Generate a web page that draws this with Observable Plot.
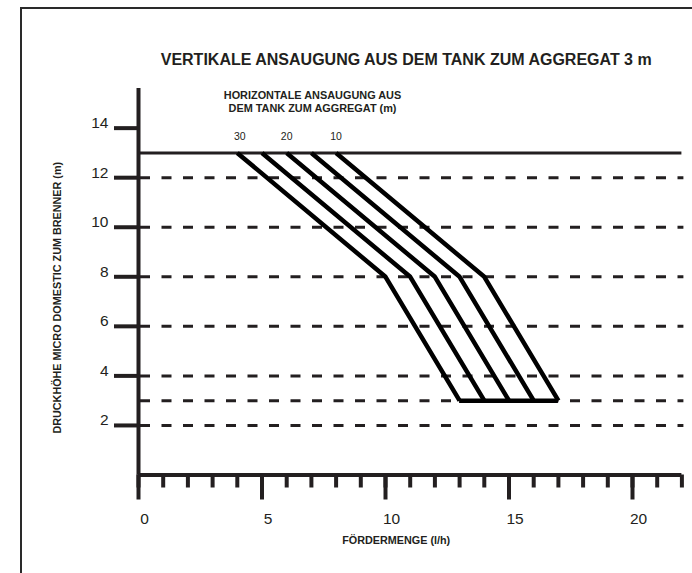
<!DOCTYPE html>
<html>
<head>
<meta charset="utf-8">
<script src="https://cdn.jsdelivr.net/npm/d3@7"></script>
<script src="https://cdn.jsdelivr.net/npm/@observablehq/plot@0.6"></script>
<style>
  html, body { margin: 0; padding: 0; background: #fff; }
  #wrap { position: relative; width: 692px; height: 573px; overflow: hidden; }
  #wrap svg { position: absolute; left: 0; top: 0; }
  #border { position: absolute; left: 20px; top: 7px; width: 720px; height: 620px;
            border-left: 2px solid #2a2a2a; border-top: 2px solid #2a2a2a; pointer-events: none; }
</style>
</head>
<body>
<div id="wrap"><div id="border"></div></div>
<script>
// ---- data ----
const seriesNames = ["30", "25", "20", "15", "10"];        // horizontal suction length (m)
const headLevels = [13, 8, 3];                              // pressure head at curve vertices (m)
const flowAtHead13 = [4, 5, 6, 7, 8];                       // l/h
const flowAtHead8 = [10, 11, 12, 13, 14];                   // l/h
const flowAtHead3 = [13, 14, 15, 16, 17];                   // l/h
const curveLabels = ["30", "20", "10"];
const curveLabelFlow = [4.1, 6, 8];
const dashedLevels = [2, 3, 4, 6, 8, 10, 12];
const solidLevel = 13;
const yTicks = [2, 4, 6, 8, 10, 12, 14];
const xMajorTicks = [0, 5, 10, 15, 20];
const xMinorTicks = d3.range(0, 23);
const title = "VERTIKALE ANSAUGUNG AUS DEM TANK ZUM AGGREGAT 3 m";
const subtitle = "HORIZONTALE ANSAUGUNG AUS\nDEM TANK ZUM AGGREGAT (m)";
const xLabel = "FÖRDERMENGE (l/h)";
const yLabel = "DRUCKHÖHE MICRO DOMESTIC ZUM BRENNER (m)";

const curves = [];
seriesNames.forEach((s, i) => {
  const flows = [flowAtHead13[i], flowAtHead8[i], flowAtHead3[i]];
  flows.forEach((f, j) => curves.push({series: s, flow: f, head: headLevels[j]}));
});
const bottomMin = d3.min(flowAtHead3), bottomMax = d3.max(flowAtHead3);

const ink = "#231f20";
const narrow = "'Liberation Sans Narrow', 'Liberation Sans', Arial, sans-serif";
const sans = "'Liberation Sans', Arial, sans-serif";

const chart = Plot.plot({
  width: 692,
  height: 573,
  marginLeft: 138,
  marginRight: 10.6,
  marginTop: 88,
  marginBottom: 98.5,
  style: {fontFamily: sans, background: "transparent", color: ink},
  x: {domain: [0, 22], axis: null},
  y: {domain: [0, 15.6], axis: null},
  marks: [
    // dashed grid levels
    Plot.ruleY(dashedLevels, {x1: 0, x2: 22, stroke: ink, strokeWidth: 3, strokeDasharray: "10,11.5", dx: 2}),
    // solid level
    Plot.ruleY([solidLevel], {x1: 0, x2: 22, stroke: ink, strokeWidth: 3}),
    // curves
    Plot.line(curves, {x: "flow", y: "head", z: "series", stroke: "#000", strokeWidth: 4.5, strokeLinejoin: "miter", strokeLinecap: "butt"}),
    Plot.ruleY([3], {x1: bottomMin, x2: bottomMax, stroke: "#000", strokeWidth: 4.5}),
    // curve labels
    Plot.text(curveLabels, {x: (d, i) => curveLabelFlow[i], y: solidLevel, dy: -16, text: d => d, fontSize: 10.5, fill: ink}),
    // axes lines
    Plot.ruleY([0], {x1: 0, x2: 22, stroke: ink, strokeWidth: 4}),
    Plot.ruleX([0], {y1: 0, y2: 15.6, stroke: ink, strokeWidth: 4}),
    // y axis ticks + labels
    Plot.axisY(yTicks, {anchor: "left", tickSize: 24, strokeWidth: 4, stroke: ink, tickFormat: () => "", label: null}),
    Plot.text(yTicks, {x: 0, y: d => d, text: d => String(d), dx: -30, dy: -5, textAnchor: "end", fontSize: 15.5, fill: ink}),
    // x axis minor ticks
    Plot.axisX(xMinorTicks, {anchor: "bottom", tickSize: 13, strokeWidth: 4, stroke: ink, tickFormat: () => "", label: null}),
    // x axis major ticks + labels
    Plot.axisX(xMajorTicks, {anchor: "bottom", tickSize: 25, strokeWidth: 4, stroke: ink, tickFormat: () => "", label: null}),
    Plot.text(xMajorTicks, {x: d => d, y: 0, text: d => String(d), dx: 6, dy: 44, fontSize: 15.5, fill: ink}),
    // title
    Plot.text([title], {frameAnchor: "top", textAnchor: "middle", dx: -4, dy: -35, fontSize: 16, fontWeight: "bold", fontFamily: sans, fill: ink}),
    Plot.text([subtitle], {frameAnchor: "top-left", textAnchor: "middle", dx: 174, dy: 2, lineAnchor: "top", lineHeight: 1.15, fontSize: 10.9, fontWeight: "bold", fontFamily: narrow, fill: ink}),
    // axis labels
    Plot.text([xLabel], {frameAnchor: "bottom", textAnchor: "middle", dx: -14, dy: 69, fontSize: 10.8, fontWeight: "bold", fontFamily: narrow, fill: ink}),
    Plot.text([yLabel], {frameAnchor: "left", textAnchor: "middle", rotate: -90, dx: -81, dy: 16, fontSize: 10.8, fontWeight: "bold", fontFamily: narrow, fill: ink})
  ]
});
document.getElementById("wrap").insertBefore(chart, document.getElementById("border"));
</script>
</body>
</html>
